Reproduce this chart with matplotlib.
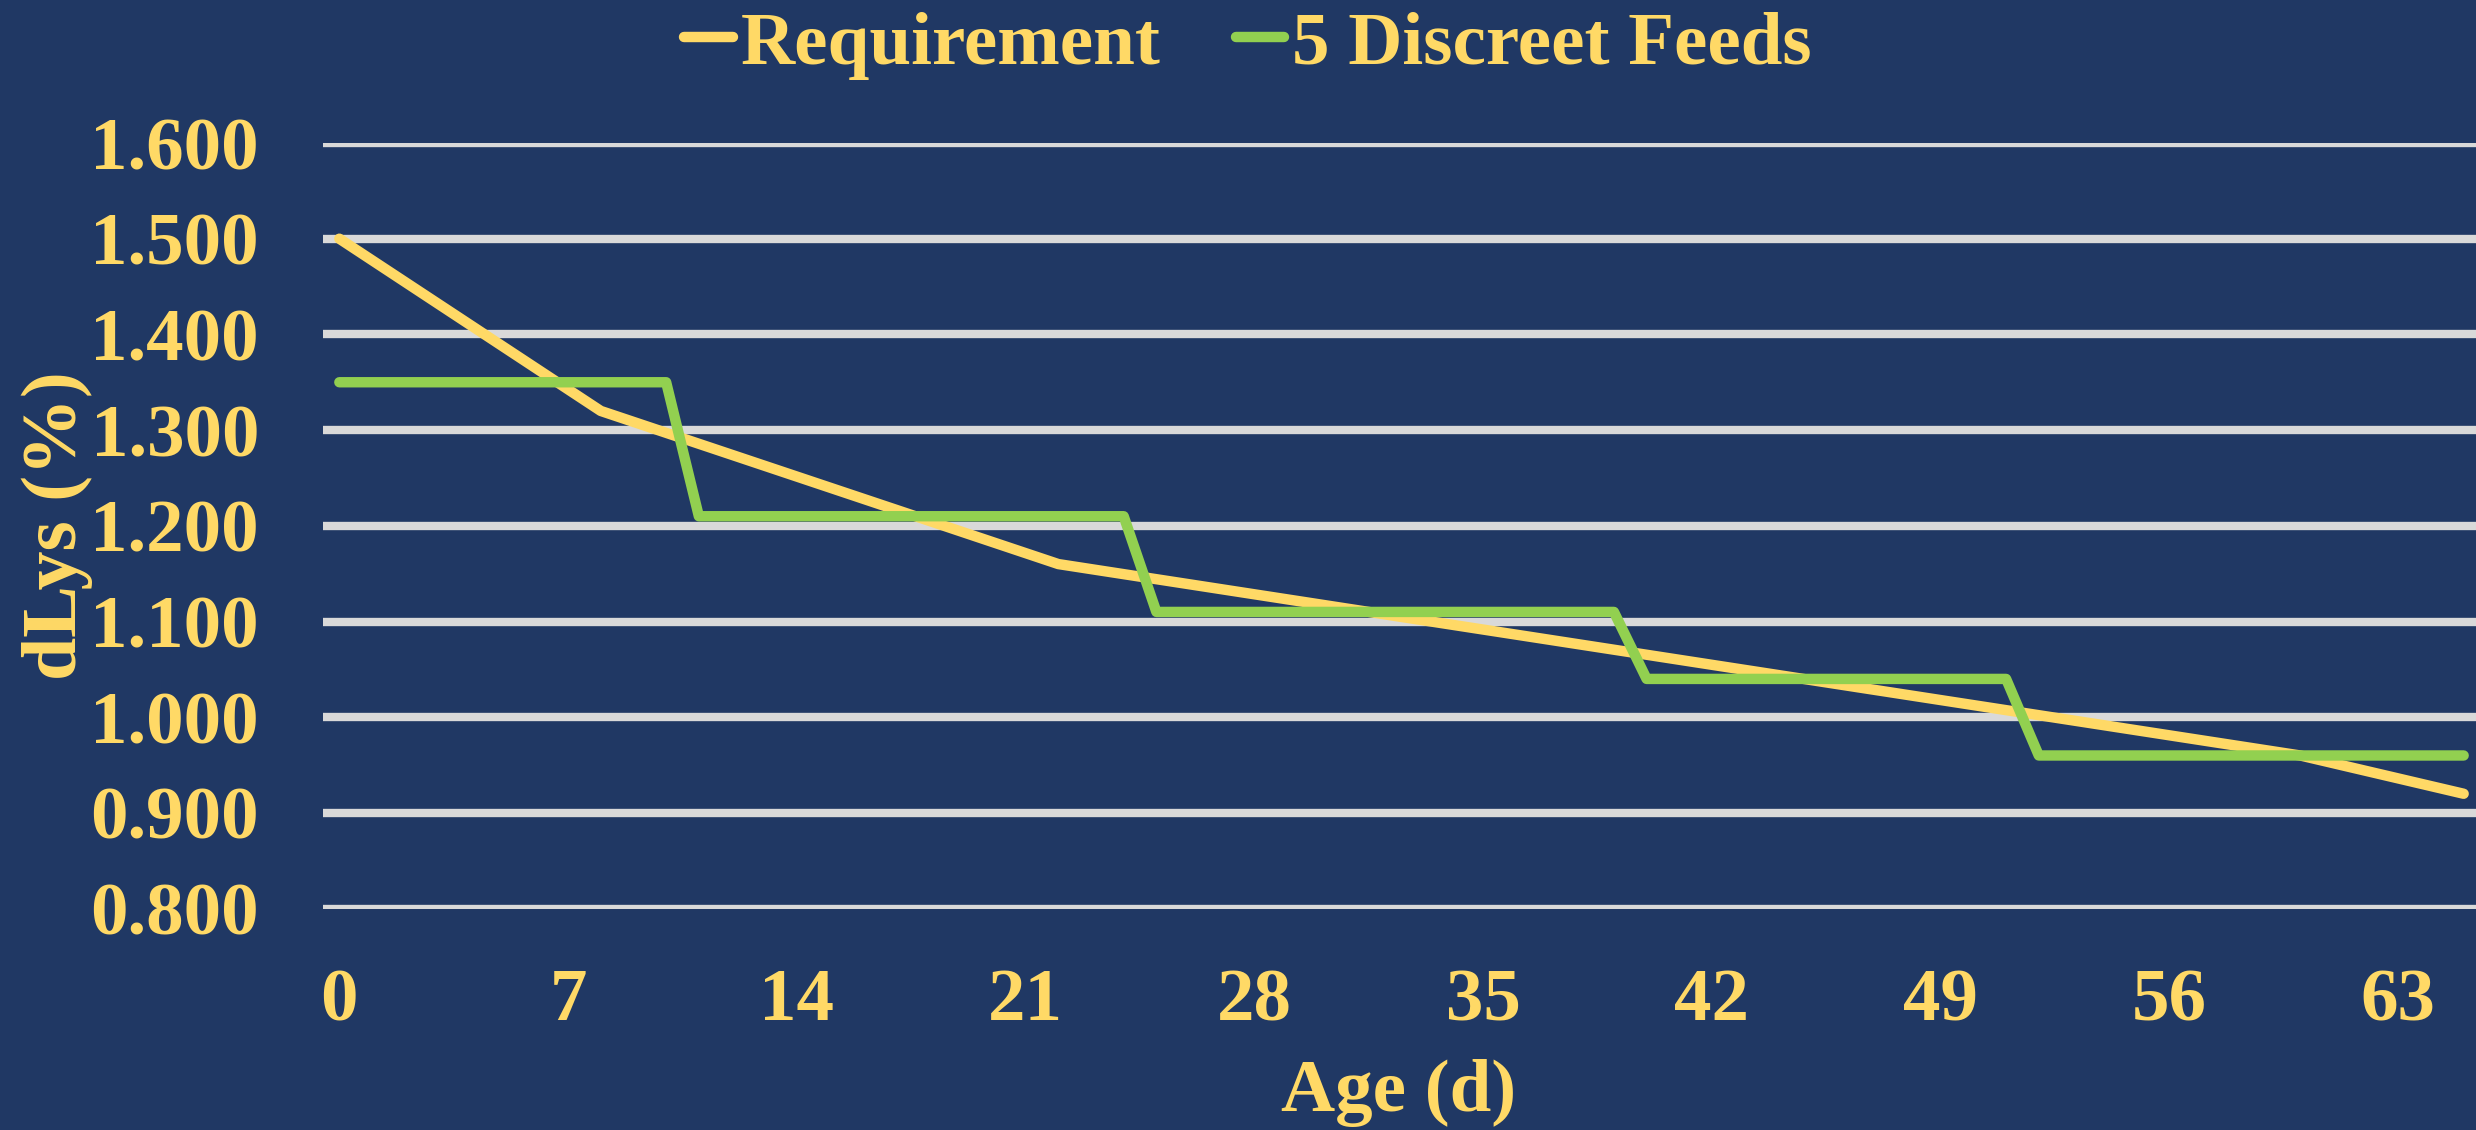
import matplotlib.pyplot as plt

# data (day index on a category axis)
req_days = [0, 8, 22, 60, 65]
req_vals = [1.50, 1.32, 1.16, 0.96, 0.92]

feed_days = [0, 10, 11, 24, 25, 39, 40, 51, 52, 65]
feed_vals = [1.35, 1.35, 1.21, 1.21, 1.11, 1.11, 1.04, 1.04, 0.96, 0.96]

x_ticks = [0, 7, 14, 21, 28, 35, 42, 49, 56, 63]
y_ticks = [0.8, 0.9, 1.0, 1.1, 1.2, 1.3, 1.4, 1.5, 1.6]

bg = "#203864"
gold = "#FFD966"
green = "#92D050"
grid = "#D9D9D9"

plt.rcParams["font.family"] = ["Liberation Serif", "DejaVu Serif"]
plt.rcParams["font.weight"] = "bold"

fig = plt.figure(figsize=(24.76, 11.3), dpi=100, facecolor=bg)
ax = fig.add_axes([323 / 2476, 1 - 908.6 / 1130, 2157 / 2476, 765.6 / 1130])
ax.set_facecolor(bg)

for v in y_ticks:
    ax.axhline(v, color=grid, lw=6, zorder=1)

ax.plot(req_days, req_vals, color=gold, lw=7.5, solid_capstyle="round",
        solid_joinstyle="round", label="Requirement", zorder=3)
ax.plot(feed_days, feed_vals, color=green, lw=7.5, solid_capstyle="round",
        solid_joinstyle="round", label="5 Discreet Feeds", zorder=4)

ax.set_xlim(-0.5, 65.5)
ax.set_ylim(0.8, 1.6)
ax.set_xticks(x_ticks)
ax.set_yticks(y_ticks)
ax.set_yticklabels([f"{v:.3f}" for v in y_ticks])
ax.tick_params(axis="both", length=0, labelsize=54, labelcolor=gold)
ax.tick_params(axis="x", pad=43)
ax.tick_params(axis="y", pad=46)
for s in ax.spines.values():
    s.set_visible(False)

fig.text(0.565, 0.033, "Age (d)", color=gold, fontsize=54, fontweight="bold",
         ha="center", va="center")
fig.text(0.023, 0.535, "dLys (%)", color=gold, fontsize=56, fontweight="bold",
         ha="center", va="center", rotation=90)

leg = fig.legend(loc="upper center", bbox_to_anchor=(0.504, 1.05), ncol=2,
                 frameon=False, fontsize=54, handlelength=0.65,
                 handletextpad=0.1, columnspacing=1.0)
for t in leg.get_texts():
    t.set_color(gold)

fig.savefig("out.png", dpi=100, facecolor=bg)
